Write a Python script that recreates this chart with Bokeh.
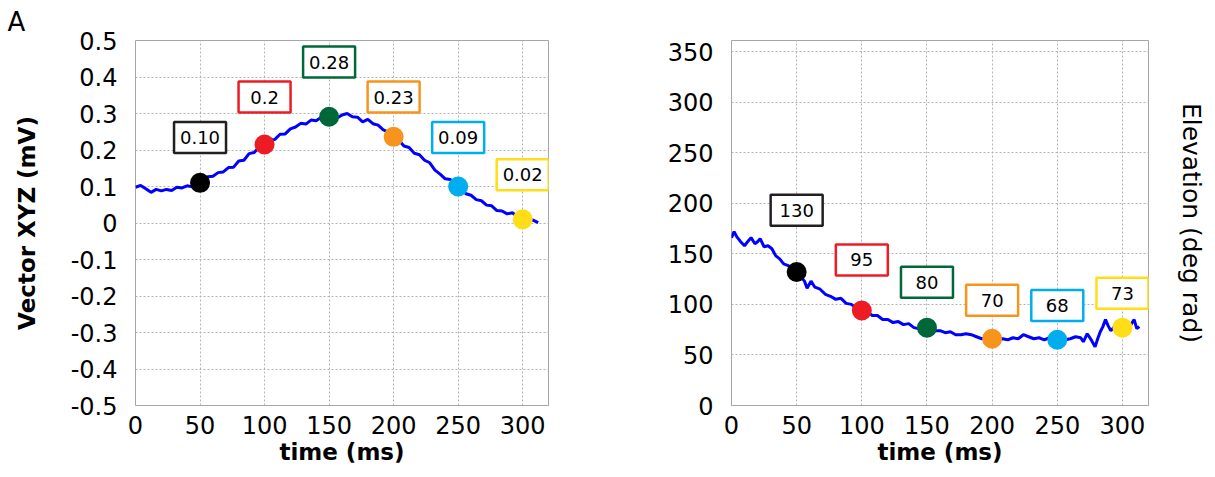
from bokeh.plotting import figure
from bokeh.layouts import row
from bokeh.models import Range1d, FixedTicker, LinearAxis, ColumnDataSource
from bokeh.core.properties import value
from bokeh.embed import file_html
from bokeh.resources import INLINE

# ---------------- data ----------------
# Left panel: Vector XYZ (mV) vs time (ms)
vec_t = [0, 4, 8, 12, 16, 20, 24, 28, 32, 36, 40, 44, 48, 52, 56, 60, 64, 68, 72, 76,
         80, 84, 88, 92, 96, 100, 104, 108, 112, 116, 120, 124, 128, 132, 136, 140, 144,
         148, 152, 156, 160, 164, 168, 172, 176, 180, 184, 188, 192, 196, 200, 204, 208,
         212, 216, 220, 224, 228, 232, 236, 240, 244, 248, 252, 256, 260, 264, 268, 272,
         276, 280, 284, 288, 292, 296, 300, 304, 308, 312]
vec_v = [0.098, 0.103, 0.094, 0.084, 0.092, 0.088, 0.092, 0.089, 0.098, 0.096, 0.102,
         0.099, 0.107, 0.111, 0.127, 0.128, 0.138, 0.140, 0.152, 0.153, 0.170, 0.172,
         0.190, 0.193, 0.209, 0.213, 0.228, 0.229, 0.243, 0.244, 0.258, 0.263, 0.273,
         0.271, 0.282, 0.280, 0.290, 0.289, 0.294, 0.287, 0.296, 0.300, 0.291, 0.290,
         0.277, 0.284, 0.272, 0.268, 0.255, 0.249, 0.234, 0.227, 0.211, 0.207, 0.191,
         0.187, 0.172, 0.165, 0.145, 0.134, 0.121, 0.119, 0.103, 0.096, 0.080, 0.076,
         0.064, 0.061, 0.049, 0.047, 0.034, 0.033, 0.025, 0.028, 0.017, 0.012, 0.006,
         0.008, 0.001]

# Right panel: Elevation (deg rad) vs time (ms)
elev_t = [0, 2, 4, 7, 10, 13, 15, 18, 20, 22, 25, 28, 31, 34, 37, 40, 44, 48, 52, 56,
          58, 61, 64, 68, 72, 76, 80, 84, 88, 92, 96, 100, 104, 108, 112, 116, 120, 124,
          128, 132, 136, 140, 144, 148, 152, 156, 160, 164, 168, 172, 176, 180, 184, 188,
          192, 196, 200, 204, 208, 212, 216, 220, 224, 228, 232, 236, 240, 244, 248, 252,
          256, 260, 264, 268, 270, 273, 276, 279, 281, 283, 285, 287, 289, 291, 294, 298,
          302, 306, 309, 311, 313]
elev_v = [166, 172, 167, 162, 158, 163, 166, 160, 162, 165, 157, 158, 155, 148, 145, 140,
          138, 132, 129, 123, 116, 123, 117, 115, 110, 108, 105, 106, 101, 100, 96, 94, 93,
          89, 89, 85, 85, 82, 83, 80, 81, 77, 76, 77, 78, 74, 74, 72, 73, 70, 70, 71, 70,
          68, 66, 67, 66, 65, 66, 65, 67, 66, 70, 68, 66, 67, 65, 67, 65, 66, 65, 66, 68,
          67, 63, 71, 65, 58, 66, 73, 78, 85, 79, 74, 78, 76, 80, 79, 85, 76, 78]

# Highlighted time points and their annotated values
mark_t = [50, 100, 150, 200, 250, 300]
mark_colors = ["#000000", "#ED1C24", "#006838", "#F7941D", "#00AEEF", "#FFDE17"]
box_colors = ["#231F20", "#ED1C24", "#006838", "#F7941D", "#00AEEF", "#FFDE17"]

vec_mark_v = [0.11, 0.215, 0.291, 0.236, 0.10, 0.01]
vec_labels = ["0.10", "0.2", "0.28", "0.23", "0.09", "0.02"]
vec_label_y = [0.234, 0.345, 0.441, 0.345, 0.234, 0.132]

elev_mark_v = [132, 94, 77, 66, 65, 77]
elev_labels = ["130", "95", "80", "70", "68", "73"]
elev_label_y = [193, 144, 122, 104, 99, 111]

x_ticks = [0, 50, 100, 150, 200, 250, 300]
vec_ticks = [-0.5, -0.4, -0.3, -0.2, -0.1, 0, 0.1, 0.2, 0.3, 0.4, 0.5]
vec_tick_labels = ["-0.5", "-0.4", "-0.3", "-0.2", "-0.1", "0", "0.1", "0.2", "0.3", "0.4", "0.5"]
elev_ticks = [0, 50, 100, 150, 200, 250, 300, 350]

FONT = "DejaVu Sans"


def style(p, yticks, ylabels=None):
    p.background_fill_color = "white"
    p.border_fill_color = "white"
    p.outline_line_color = "#a6a6a6"
    p.outline_line_width = 1
    for g in (p.xgrid, p.ygrid):
        g.grid_line_color = "#b3b3b3"
        g.grid_line_dash = "2 2"
        g.grid_line_width = 1
    p.xaxis.ticker = FixedTicker(ticks=x_ticks)
    p.yaxis.ticker = FixedTicker(ticks=yticks)
    if ylabels is not None:
        p.yaxis.major_label_overrides = {t: l for t, l in zip(yticks, ylabels)}
    for ax in (p.xaxis[0], p.yaxis[0]):
        ax.axis_line_color = None
        ax.major_tick_line_color = None
        ax.minor_tick_line_color = None
        ax.major_label_text_font = FONT
        ax.major_label_text_font_size = "24px"
        ax.major_label_text_color = "black"
    p.xaxis.axis_label = "time (ms)"
    p.xaxis.axis_label_text_font = FONT
    p.xaxis.axis_label_text_font_style = "bold"
    p.xaxis.axis_label_text_font_size = "23px"
    p.xaxis.axis_label_text_color = "black"
    p.xaxis.major_label_standoff = 4
    p.xaxis.axis_label_standoff = 2


def annotate(p, marks, lab_y, labs):
    p.scatter(mark_t, marks, size=20, marker="circle", fill_color=mark_colors, line_color=None)
    src = ColumnDataSource(dict(x=mark_t, y=lab_y, t=labs, c=box_colors))
    p.rect(x="x", y="y", width=52, height=31, width_units="screen", height_units="screen",
           fill_color="white", line_color="c", line_width=2.5, source=src)
    p.text(x="x", y="y", text="t", source=src, text_align="center", text_baseline="middle",
           text_font=value(FONT), text_font_size=value("18px"), text_color="black")


# ---------------- left panel ----------------
p1 = figure(frame_width=413, frame_height=365, min_border_left=135, min_border_right=60,
            min_border_top=40, min_border_bottom=72,
            x_range=Range1d(0, 320), y_range=Range1d(-0.5, 0.5),
            output_backend="svg", toolbar_location=None, title="A")
p1.title.text_font = FONT
p1.title.text_font_size = "26px"
p1.title.text_font_style = "normal"
p1.title.text_color = "black"
p1.title.align = "left"
p1.title.offset = -128
p1.title.standoff = 8
style(p1, vec_ticks, vec_tick_labels)
p1.yaxis.axis_label = "Vector XYZ (mV)"
p1.yaxis.axis_label_text_font = FONT
p1.yaxis.axis_label_text_font_style = "bold"
p1.yaxis.axis_label_text_font_size = "23px"
p1.yaxis.axis_label_text_color = "black"
p1.yaxis.major_label_standoff = 12
p1.yaxis.axis_label_standoff = 28
p1.line(vec_t, vec_v, line_color="#0000FF", line_width=3)
annotate(p1, vec_mark_v, vec_label_y, vec_labels)

# ---------------- right panel ----------------
p2 = figure(frame_width=417, frame_height=365, min_border_left=123, min_border_right=67,
            min_border_top=40, min_border_bottom=72,
            x_range=Range1d(0, 320), y_range=Range1d(0, 361),
            output_backend="svg", toolbar_location=None)
style(p2, elev_ticks)
p2.yaxis.major_label_standoff = 12
p2.line(elev_t, elev_v, line_color="#0000FF", line_width=3)
annotate(p2, elev_mark_v, elev_label_y, elev_labels)
rax = LinearAxis(ticker=FixedTicker(ticks=[]), axis_label="Elevation (deg rad)",
                 axis_line_color=None, major_tick_line_color=None, minor_tick_line_color=None,
                 major_label_text_font_size="0px", axis_label_text_font=FONT,
                 axis_label_text_font_style="normal", axis_label_text_font_size="25px",
                 axis_label_text_color="black", axis_label_standoff=28)
p2.add_layout(rax, "right")

layout = row(p1, p2)
open("out.html", "w").write(file_html(layout, INLINE))
